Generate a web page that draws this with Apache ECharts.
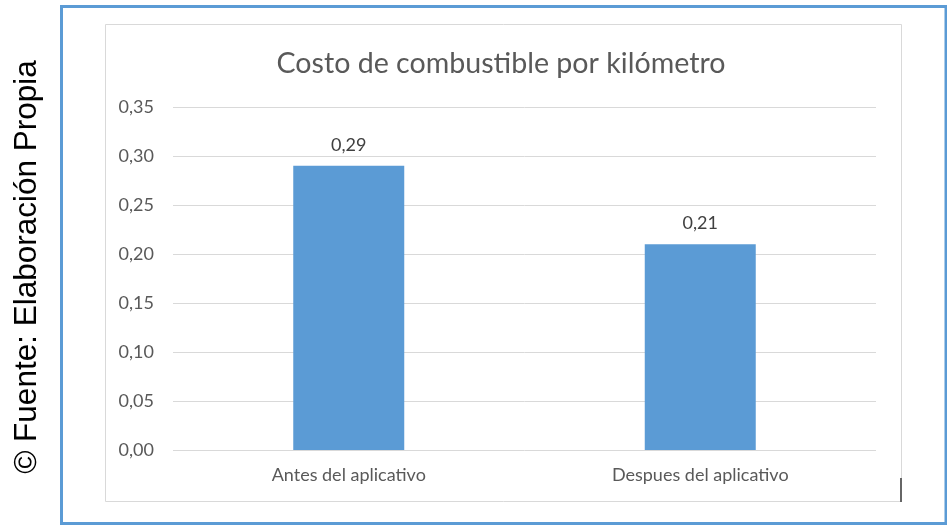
<!DOCTYPE html>
<html>
<head>
<meta charset="utf-8">
<script src="https://cdn.jsdelivr.net/npm/echarts@6/dist/echarts.min.js"></script>
<style>html,body{margin:0;padding:0;background:#fff;}#c{width:947px;height:525px;}</style>
</head>
<body>
<div id="c"></div>
<script>
var titleText = "Costo de combustible por kilómetro";
var sourceText = "© Fuente: Elaboración Propia";
var categories = ["Antes del aplicativo", "Despues del aplicativo"];
var values = [0.29, 0.21];
var yTicks = { min: 0, max: 0.35, interval: 0.05 };

function fmt(v) { return v.toFixed(2).replace('.', ','); }

var chart = echarts.init(document.getElementById('c'));
chart.setOption({
  backgroundColor: '#ffffff',
  animation: false,
  title: {
    text: titleText,
    left: 496, top: 44, textAlign: 'center',
    textStyle: { fontFamily: 'Lato', fontSize: 28.6, fontWeight: 'normal', color: '#595959' }
  },
  grid: { left: 173, right: 71, top: 107, bottom: 75, containLabel: false },
  xAxis: {
    type: 'category', data: categories,
    axisLine: { show: false }, axisTick: { show: false },
    axisLabel: { margin: 16, fontFamily: 'Lato', fontSize: 18, color: '#595959' }
  },
  yAxis: {
    type: 'value', min: yTicks.min, max: yTicks.max, interval: yTicks.interval,
    axisLine: { show: false }, axisTick: { show: false },
    splitLine: { lineStyle: { color: '#d9d9d9', width: 1 } },
    axisLabel: { margin: 19, fontFamily: 'Lato', fontSize: 18, color: '#595959', formatter: function (v) { return fmt(v); } }
  },
  series: [{
    type: 'bar', data: values, barWidth: 111,
    itemStyle: { color: '#5b9bd5' },
    label: { show: true, position: 'top', distance: 12, fontFamily: 'Lato', fontSize: 18, color: '#404040',
      formatter: function (p) { return fmt(p.value); } }
  }],
  graphic: [
    { type: 'rect', z: -10, shape: { x: 105.5, y: 24.5, width: 796, height: 477 },
      style: { fill: 'none', stroke: '#d9d9d9', lineWidth: 1 } },
    { type: 'line', z: 10, shape: { x1: 901, y1: 478, x2: 901, y2: 502 },
      style: { stroke: '#666666', lineWidth: 2 } },
    { type: 'rect', z: 10, shape: { x: 61.5, y: 6.5, width: 884.5, height: 517 },
      style: { fill: 'none', stroke: '#5b9bd5', lineWidth: 3 } },
    { type: 'text', x: 27, y: 267, rotation: Math.PI / 2,
      style: { text: sourceText, fontFamily: 'Liberation Sans', fontSize: 31.5, fill: '#000000',
        align: 'center', verticalAlign: 'middle' } }
  ]
});
</script>
</body>
</html>
